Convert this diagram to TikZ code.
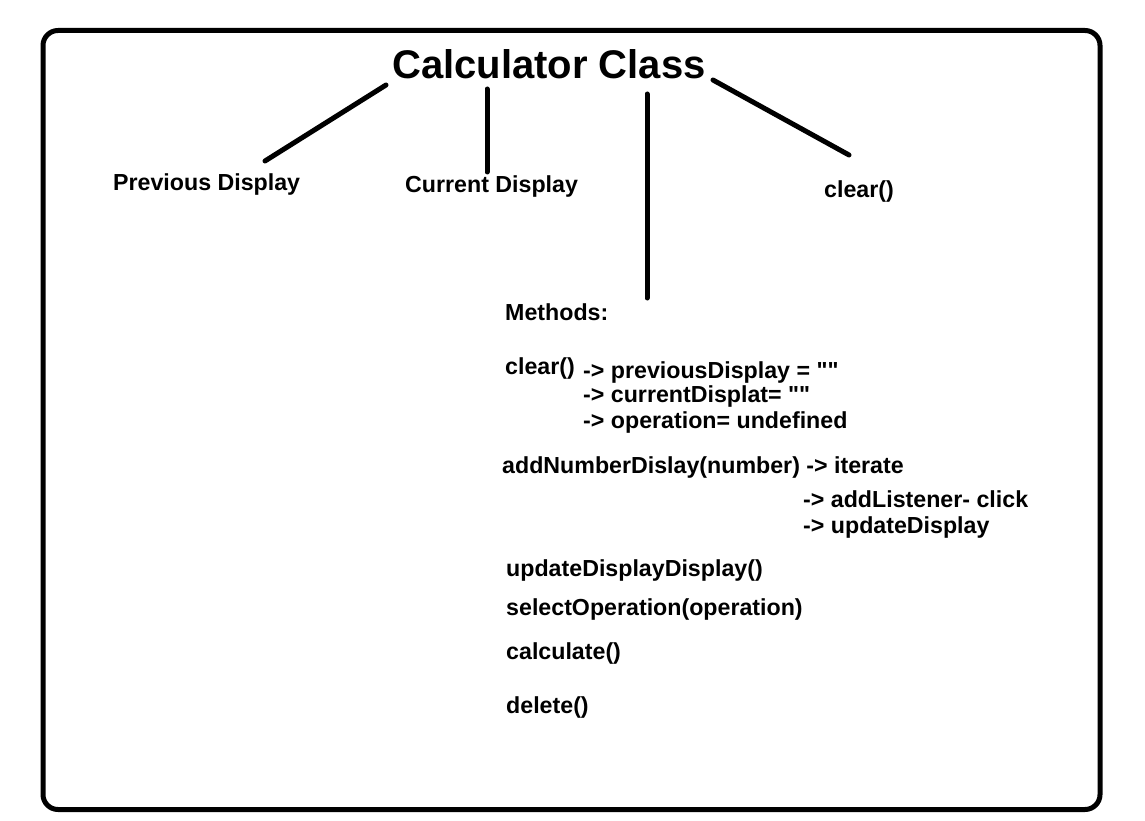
\documentclass[tikz,border=0pt]{standalone}
\usepackage{fontspec}
\setmainfont{Liberation Sans}[Ligatures=TeXOff]
\begin{document}
\begin{tikzpicture}[x=1pt,y=-1pt,
  txt/.style={anchor=base west,inner sep=0pt,font=\fontsize{23.2}{27}\selectfont\bfseries},
  ttl/.style={anchor=base west,inner sep=0pt,font=\fontsize{40}{46}\selectfont\bfseries},
  link/.style={line width=5pt,line cap=round},
  frame/.style={line width=5pt,rounded corners=15pt}]
\useasboundingbox (0,0) rectangle (1145,821);
\draw[frame] (43,30.5) rectangle (1100,809.5);
\node[ttl] (title) at (392,79) {Calculator Class};
\node[txt] (prev) at (113,190) {Previous Display};
\node[txt] (curr) at (405,193) {Current Display};
\node[txt] (clr) at (824,197) {clear()};
\node[txt] (methods) at (505,320) {Methods:};
\node[txt] (m1) at (505,374) {clear()};
\node[txt] (m1a) at (583,378) {-> previousDisplay = ""};
\node[txt] (m1b) at (583,402) {-> currentDisplat= ""};
\node[txt] (m1c) at (583,428) {-> operation= undefined};
\node[txt] (m2) at (502,473) {addNumberDislay(number) -> iterate};
\node[txt] (m2a) at (803,507) {-> addListener- click};
\node[txt] (m2b) at (803,533) {-> updateDisplay};
\node[txt] (m3) at (506,576) {updateDisplayDisplay()};
\node[txt] (m4) at (506,615) {selectOperation(operation)};
\node[txt] (m5) at (506,659) {calculate()};
\node[txt] (m6) at (506,713) {delete()};
\coordinate (a1) at (386,85);
\coordinate (a2) at (265,161);
\coordinate (b1) at (487,89);
\coordinate (b2) at (487,172);
\coordinate (c1) at (647,94);
\coordinate (c2) at (647,298);
\coordinate (d1) at (713,80);
\coordinate (d2) at (849,155);
\draw[link] (a1) -- (a2);
\draw[link] (b1) -- (b2);
\draw[link] (c1) -- (c2);
\draw[link] (d1) -- (d2);
\end{tikzpicture}
\end{document}
